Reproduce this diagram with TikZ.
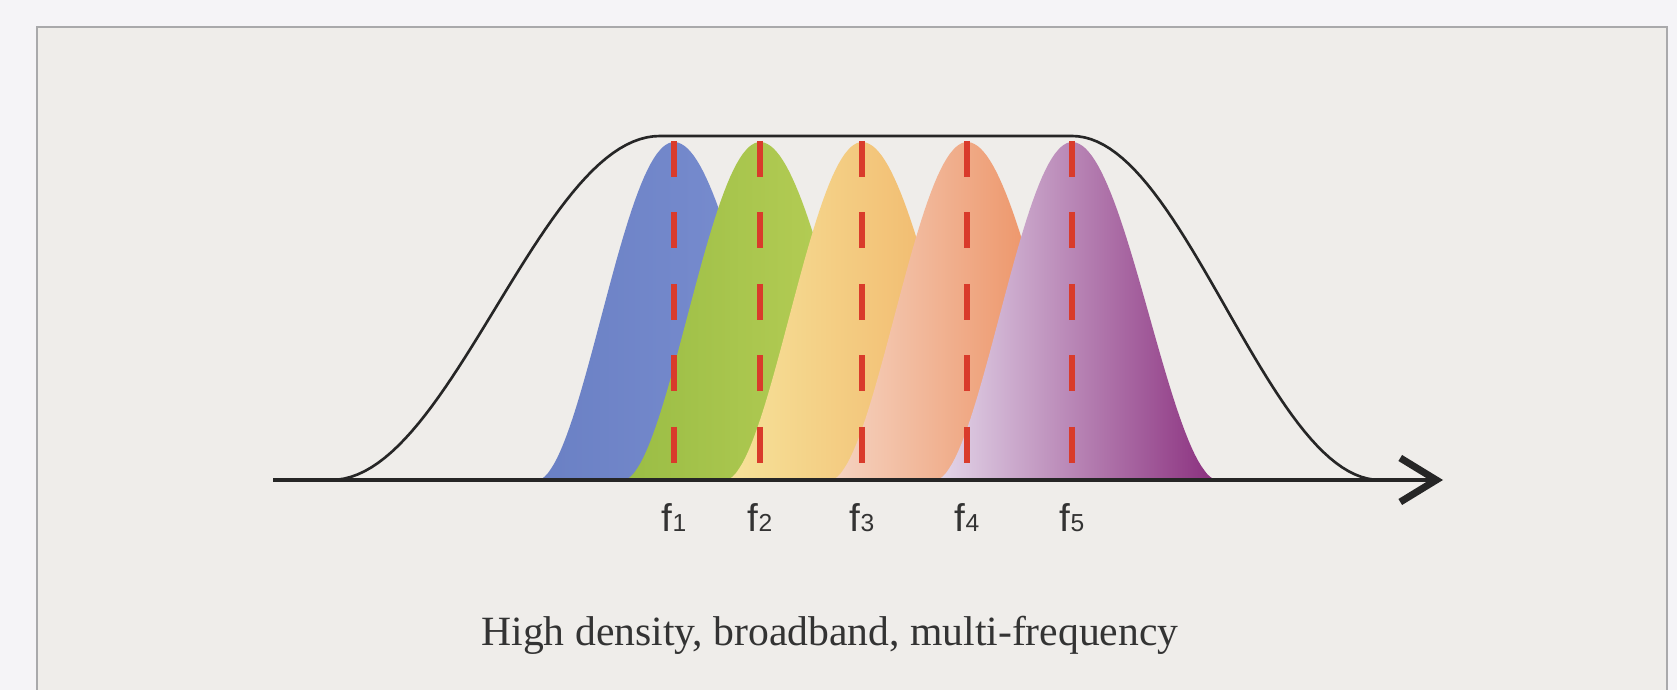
\documentclass[tikz,border=0pt]{standalone}
\usepackage{fontspec}
\setmainfont{Liberation Serif}
\newfontfamily\lblfont{Liberation Sans}
\usetikzlibrary{arrows.meta}
\definecolor{outerbg}{HTML}{F5F4F7}
\definecolor{panelbg}{HTML}{EFEDEA}
\definecolor{frameln}{HTML}{A9A9AB}
\definecolor{fred}{HTML}{D93B2B}
\definecolor{curvecol}{HTML}{262626}
\definecolor{blueL}{HTML}{6A80C4}\definecolor{blueR}{HTML}{7C90D2}
\definecolor{greenL}{HTML}{9ABD45}\definecolor{greenR}{HTML}{BED25A}
\definecolor{yelL}{HTML}{F6E39A}\definecolor{yelR}{HTML}{F0AC60}
\definecolor{oraL}{HTML}{F5D4C2}\definecolor{oraR}{HTML}{EA7C45}
\definecolor{purL}{HTML}{E4D8EA}\definecolor{purR}{HTML}{8A2F7E}

\begin{document}
\begin{tikzpicture}[>=Stealth]
\tikzstyle{fline}=[draw=fred,line width=1.9pt,dash pattern=on 0.36cm off 0.355cm]
\tikzstyle{envelope}=[draw=curvecol,line width=0.75pt]
\tikzstyle{axis}=[draw=curvecol,line width=0.9pt,-{Straight Barb[length=3.6mm,width=4.4mm,line width=2pt]}]
\tikzstyle{flabel}=[anchor=base,inner sep=0pt,text=black!80,font=\fontsize{11}{13}\selectfont\lblfont]
\tikzstyle{captext}=[anchor=base,inner sep=0pt,text=black!80,font=\fontsize{11.85}{14}\selectfont]
\useasboundingbox (0,0) rectangle (16.77,6.90);
\fill[outerbg] (0,0) rectangle (16.77,6.90);
\fill[panelbg] (0.37,0) rectangle (16.67,6.63);
\draw[frameln,line width=0.6pt] (0.37,0) -- (0.37,6.63) -- (16.67,6.63) -- (16.67,0);
% channels
\foreach \c/\lc/\rc in {6.74/blueL/blueR,7.60/greenL/greenR,8.62/yelL/yelR,9.67/oraL/oraR,10.72/purL/purR}{
  \shade[left color=\lc,right color=\rc] (\c-1.36,2.10) -- plot[domain=-1.355:1.445,samples=91] ({\c+\x},{2.10+3.38*abs(cos(90*\x/(\x<0 ? 1.36 : 1.45)))^1.8}) -- (\c+1.45,2.10) -- cycle;
}
\foreach \c/\n in {6.74/1,7.60/2,8.62/3,9.67/4,10.72/5}{
  \coordinate (t\n) at (\c,5.49); \coordinate (b\n) at (\c,2.27);
  \draw[fline] (t\n) -- (b\n);
  \node[flabel] (f\n) at (\c,1.58) {f{\fontsize{7}{8}\selectfont\n}};
}
% passband
\draw[envelope] plot[domain=3.31:6.60,samples=50] (\x,{2.10+1.72*(1-cos(180*(\x-3.31)/3.29))})
  -- plot[domain=10.72:13.8,samples=50] (\x,{2.10+1.72*(1+cos(180*(\x-10.72)/3.08))});
\coordinate (ax0) at (2.73,2.10); \coordinate (ax1) at (14.43,2.10);
\draw[axis] (ax0) -- (ax1);
\node[captext] (caption) at (8.30,0.44) {High density, broadband, multi-frequency};
\end{tikzpicture}
\end{document}
